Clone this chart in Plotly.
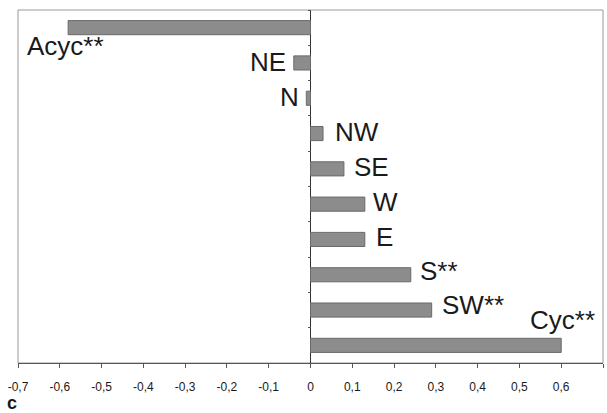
import plotly.graph_objects as go

categories = ["Acyc**", "NE", "N", "NW", "SE", "W", "E", "S**", "SW**", "Cyc**"]
values = [-0.58, -0.04, -0.01, 0.03, 0.08, 0.13, 0.13, 0.24, 0.29, 0.60]
tick_vals = [-0.7, -0.6, -0.5, -0.4, -0.3, -0.2, -0.1, 0, 0.1, 0.2, 0.3, 0.4, 0.5, 0.6, 0.7]
tick_text = ["-0,7", "-0,6", "-0,5", "-0,4", "-0,3", "-0,2", "-0,1", "0",
             "0,1", "0,2", "0,3", "0,4", "0,5", "0,6", "0,7"]

# label placement styles (anchor, xshift px, yshift px)
label_style = {
    "Acyc**": ("left", -43, -18),
    "NE": ("right", -6, 1),
    "N": ("right", -5, 1),
    "NW": ("left", 10, 2),
    "SE": ("left", 8, 2),
    "W": ("left", 6, 2),
    "E": ("left", 9, 2),
    "S**": ("left", 7, 4),
    "SW**": ("left", 8, 5),
    "Cyc**": ("right", 36, 25),
}

FONT = "Liberation Sans, Arial"

fig = go.Figure()
fig.add_trace(go.Bar(
    x=values, y=categories, orientation="h", width=0.4,
    marker=dict(color="#8c8c8c", line=dict(color="#6a6a6a", width=1)),
    hoverinfo="skip",
))

for c, v in zip(categories, values):
    anc, xs, ys = label_style[c]
    fig.add_annotation(x=v, y=c, text=c, showarrow=False, xanchor=anc,
                       yanchor="middle", xshift=xs, yshift=ys,
                       font=dict(family=FONT, size=26, color="#1a1a1a"))

fig.add_annotation(xref="paper", yref="paper", x=-0.023, y=-0.112,
                   xanchor="left", yanchor="middle", text="<b>c</b>", showarrow=False,
                   font=dict(family=FONT, size=18, color="#1a1a1a"))

fig.add_shape(type="rect", xref="x domain", yref="y domain", x0=0, x1=1, y0=0, y1=1,
              line=dict(color="#9a9a9a", width=1), layer="below")

fig.update_layout(
    width=607, height=413,
    margin=dict(l=18, r=4, t=10, b=50),
    paper_bgcolor="white", plot_bgcolor="white",
    showlegend=False,
    xaxis=dict(range=[-0.7, 0.7], tickvals=tick_vals, ticktext=tick_text,
               automargin=False,
               showgrid=False, zeroline=True, zerolinecolor="#333", zerolinewidth=1,
               showline=True, linecolor="#555", linewidth=1,
               ticks="outside", ticklen=4, tickcolor="#555", ticklabelstandoff=9,
               tickfont=dict(family=FONT, size=12, color="#1a1a1a")),
    xaxis2=dict(range=[-0.7, 0.7], tickvals=tick_vals, overlaying="x", anchor="y",
                side="bottom", automargin=False, showgrid=False, zeroline=False,
                showline=False, showticklabels=False,
                ticks="inside", ticklen=3, tickcolor="#555"),
    yaxis=dict(type="category", categoryorder="array", categoryarray=categories,
               range=[9.5, -0.5], automargin=False,
               showgrid=False, showticklabels=False,
               anchor="free", position=0.5, showline=False,
               ticks="outside", ticklen=3, tickcolor="#555", tickson="boundaries"),
)

fig.write_html("out.html", config={"displayModeBar": False},
               post_script="document.body.style.margin='0';document.body.style.overflow='hidden';")
